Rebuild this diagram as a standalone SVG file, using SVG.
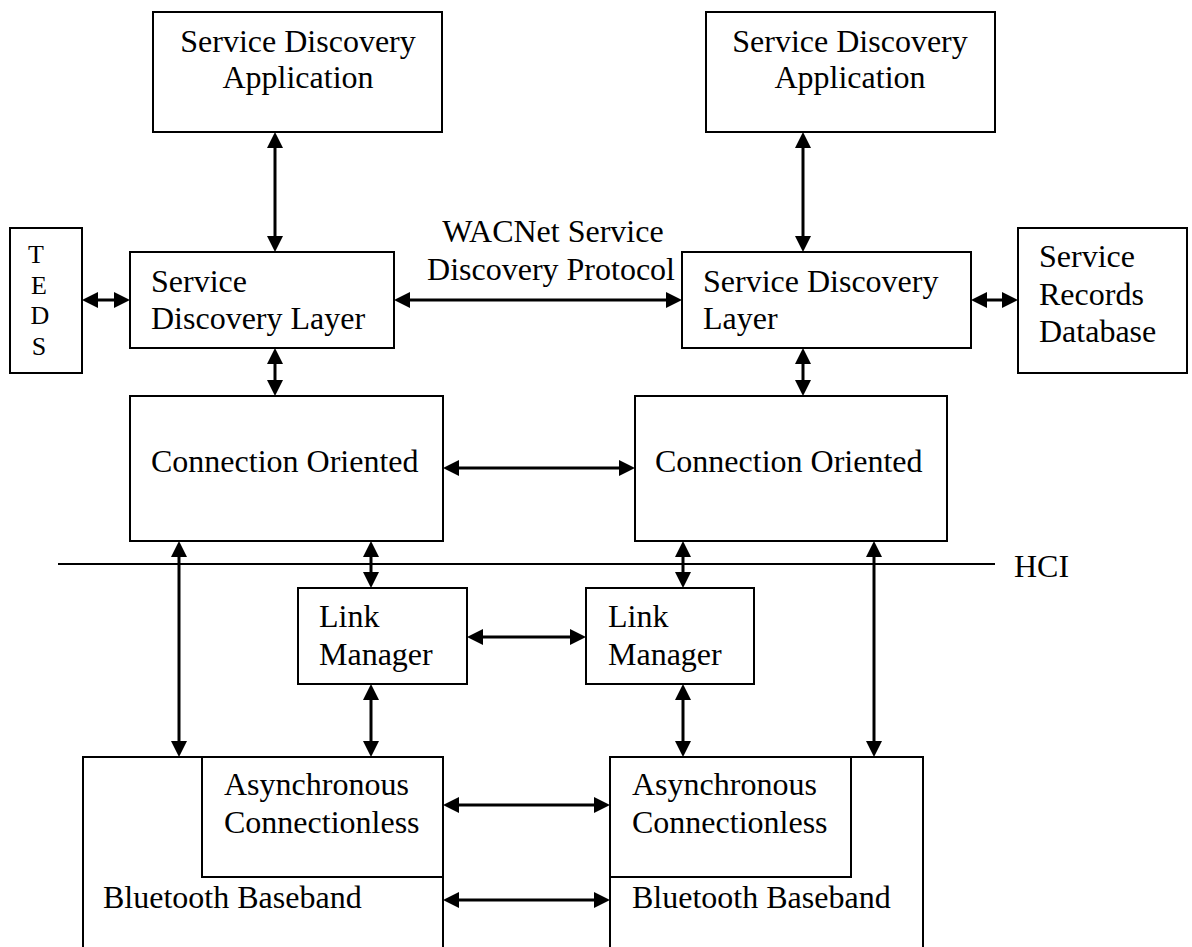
<svg xmlns="http://www.w3.org/2000/svg" width="1192" height="947" viewBox="0 0 1192 947">
<style>
.box{fill:#fff;stroke:#000;stroke-width:2}
.t{font-family:"Liberation Serif","Times New Roman",serif;font-size:32px;fill:#000}
.s{font-family:"Liberation Serif","Times New Roman",serif;font-size:26px;fill:#000}
.c{stroke:#000;stroke-width:3;fill:none;marker-start:url(#ah);marker-end:url(#ah)}
</style>
<defs>
<marker id="ah" viewBox="0 0 16 16" refX="10" refY="8" markerWidth="16" markerHeight="16" markerUnits="userSpaceOnUse" orient="auto-start-reverse">
<path d="M0,0 L16,8 L0,16 z" fill="#000"/>
</marker>
</defs>
<rect width="1192" height="947" fill="#fff"/>
<g id="appL"><rect class="box" x="153" y="12" width="289" height="120"/><text class="t" x="298" y="52" text-anchor="middle">Service Discovery</text><text class="t" x="298" y="88" text-anchor="middle">Application</text></g>
<g id="appR"><rect class="box" x="706" y="12" width="289" height="120"/><text class="t" x="850" y="52" text-anchor="middle">Service Discovery</text><text class="t" x="850" y="88" text-anchor="middle">Application</text></g>
<g id="teds"><rect class="box" x="10" y="228" width="72" height="145"/><text class="s" x="36" y="263" text-anchor="middle">T</text><text class="s" x="39" y="294" text-anchor="middle">E</text><text class="s" x="40" y="324" text-anchor="middle">D</text><text class="s" x="39" y="355" text-anchor="middle">S</text></g>
<g id="sdlL"><rect class="box" x="130" y="252" width="264" height="96"/><text class="t" x="151" y="292">Service</text><text class="t" x="151" y="329">Discovery Layer</text></g>
<g id="sdlR"><rect class="box" x="682" y="252" width="289" height="96"/><text class="t" x="703" y="292">Service Discovery</text><text class="t" x="703" y="329">Layer</text></g>
<g id="srd"><rect class="box" x="1018" y="228" width="169" height="145"/><text class="t" x="1039" y="267">Service</text><text class="t" x="1039" y="305">Records</text><text class="t" x="1039" y="342">Database</text></g>
<g id="wacnet"><text class="t" x="553" y="242" text-anchor="middle">WACNet Service</text><text class="t" x="551" y="280" text-anchor="middle">Discovery Protocol</text></g>
<g id="coL"><rect class="box" x="130" y="396" width="313" height="145"/><text class="t" x="151" y="472">Connection Oriented</text></g>
<g id="coR"><rect class="box" x="635" y="396" width="312" height="145"/><text class="t" x="655" y="472">Connection Oriented</text></g>
<g id="hci"><line x1="58" y1="564" x2="995" y2="564" stroke="#000" stroke-width="2"/><text class="t" x="1014" y="577">HCI</text></g>
<g id="lmL"><rect class="box" x="298" y="588" width="169" height="96"/><text class="t" x="319" y="627">Link</text><text class="t" x="319" y="665">Manager</text></g>
<g id="lmR"><rect class="box" x="586" y="588" width="168" height="96"/><text class="t" x="608" y="627">Link</text><text class="t" x="608" y="665">Manager</text></g>
<g id="bbL"><rect class="box" x="83" y="757" width="360" height="220"/><text class="t" x="103" y="908">Bluetooth Baseband</text></g>
<g id="asyncL"><rect class="box" x="202" y="757" width="241" height="120"/><text class="t" x="224" y="795">Asynchronous</text><text class="t" x="224" y="833">Connectionless</text></g>
<g id="bbR"><rect class="box" x="610" y="757" width="313" height="220"/><text class="t" x="632" y="908">Bluetooth Baseband</text></g>
<g id="asyncR"><rect class="box" x="610" y="757" width="241" height="120"/><text class="t" x="632" y="795">Asynchronous</text><text class="t" x="632" y="833">Connectionless</text></g>
<g id="connectors">
<line class="c" x1="275" y1="138" x2="275" y2="246"/>
<line class="c" x1="803" y1="138" x2="803" y2="246"/>
<line class="c" x1="88" y1="300" x2="124" y2="300"/>
<line class="c" x1="400" y1="300" x2="676" y2="300"/>
<line class="c" x1="977" y1="300" x2="1012" y2="300"/>
<line class="c" x1="275" y1="354" x2="275" y2="390"/>
<line class="c" x1="803" y1="354" x2="803" y2="390"/>
<line class="c" x1="449" y1="468" x2="629" y2="468"/>
<line class="c" x1="371" y1="547" x2="371" y2="582"/>
<line class="c" x1="683" y1="547" x2="683" y2="582"/>
<line class="c" x1="473" y1="637" x2="580" y2="637"/>
<line class="c" x1="371" y1="690" x2="371" y2="751"/>
<line class="c" x1="683" y1="690" x2="683" y2="751"/>
<line class="c" x1="179" y1="547" x2="179" y2="751"/>
<line class="c" x1="874" y1="547" x2="874" y2="751"/>
<line class="c" x1="449" y1="805" x2="604" y2="805"/>
<line class="c" x1="449" y1="900" x2="604" y2="900"/>
</g>
</svg>
